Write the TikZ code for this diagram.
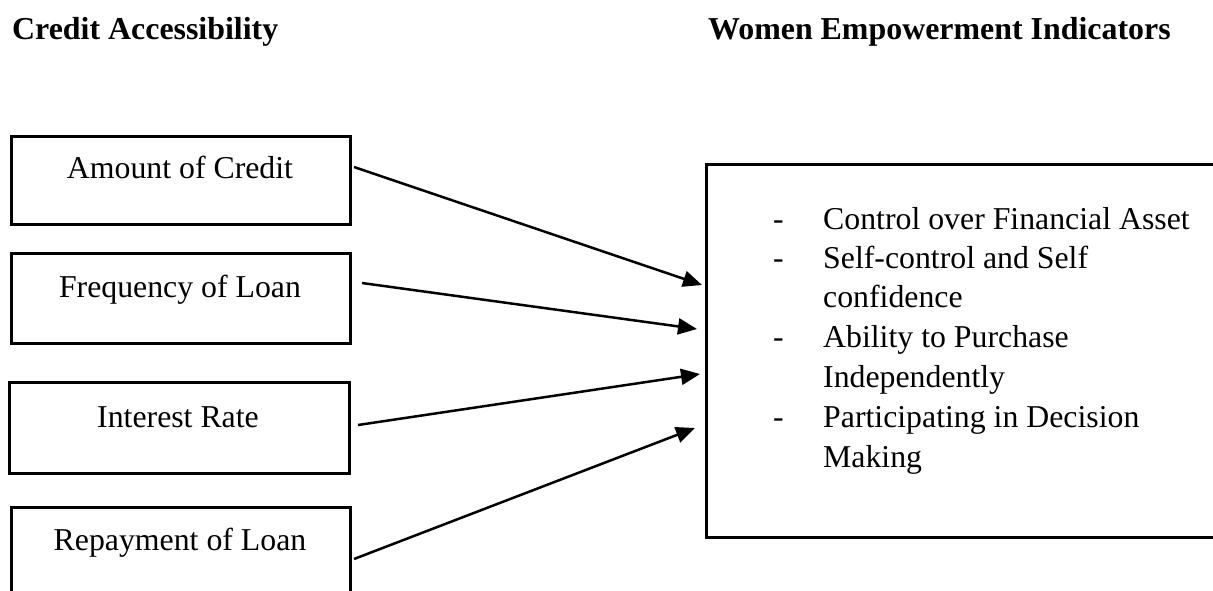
\documentclass[tikz,border=0pt]{standalone}
\usepackage{fontspec}
\setmainfont{Liberation Serif}
\usetikzlibrary{arrows.meta}
\tikzset{
  txt/.style={font=\fontsize{31.8}{39.6}\selectfont, inner sep=0pt, anchor=base},
  title/.style={txt, font=\fontsize{31.9}{39.6}\selectfont\bfseries, anchor=base west},
  item/.style={txt, anchor=base west},
  box/.style={draw, line width=2.8pt, inner sep=0pt, anchor=north west},
  conn/.style={line width=2.5pt, -{Triangle[length=19pt,width=16pt]}}
}
\begin{document}
\begin{tikzpicture}[x=1pt,y=-1pt]
\useasboundingbox (0,0) rectangle (1213,590);
\clip (0,0) rectangle (1213,590);
% titles
\node[title] (tl) at (12,39) {Credit Accessibility};
\node[title] (tr) at (708,39) {Women Empowerment Indicators};
% left boxes
\node[box, minimum width=339pt, minimum height=88pt] (b1) at (10,135) {};
\node[box, minimum width=339pt, minimum height=90pt] (b2) at (10,252) {};
\node[box, minimum width=340pt, minimum height=91pt] (b3) at (8,381) {};
\node[box, minimum width=339pt, minimum height=100pt] (b4) at (10,506) {};
\node[txt] (t1) at (180,178) {Amount of Credit};
\node[txt] (t2) at (180,297) {Frequency of Loan};
\node[txt] (t3) at (178,427) {Interest Rate};
\node[txt] (t4) at (180,550) {Repayment of Loan};
% right box
\node[box, minimum width=520pt, minimum height=373pt] (rb) at (705,163) {};
\node[item] (d1) at (773,229) {-};
\node[item] (l1) at (823,229) {Control over Financial Asset};
\node[item] (d2) at (773,268) {-};
\node[item] (l2) at (823,268) {Self-control and Self};
\node[item] (l2b) at (823,307) {confidence};
\node[item] (d3) at (773,347) {-};
\node[item] (l3) at (823,347) {Ability to Purchase};
\node[item] (l3b) at (823,387) {Independently};
\node[item] (d4) at (773,427) {-};
\node[item] (l4) at (823,427) {Participating in Decision};
\node[item] (l4b) at (823,467) {Making};
% connector end points
\coordinate (s1) at (354,167);
\coordinate (e1) at (702,285);
\coordinate (s2) at (362,283);
\coordinate (e2) at (697,329);
\coordinate (s3) at (358,425);
\coordinate (e3) at (700,374);
\coordinate (s4) at (354,559);
\coordinate (e4) at (695,428);
\draw[conn] (s1) -- (e1);
\draw[conn] (s2) -- (e2);
\draw[conn] (s3) -- (e3);
\draw[conn] (s4) -- (e4);
\end{tikzpicture}
\end{document}
